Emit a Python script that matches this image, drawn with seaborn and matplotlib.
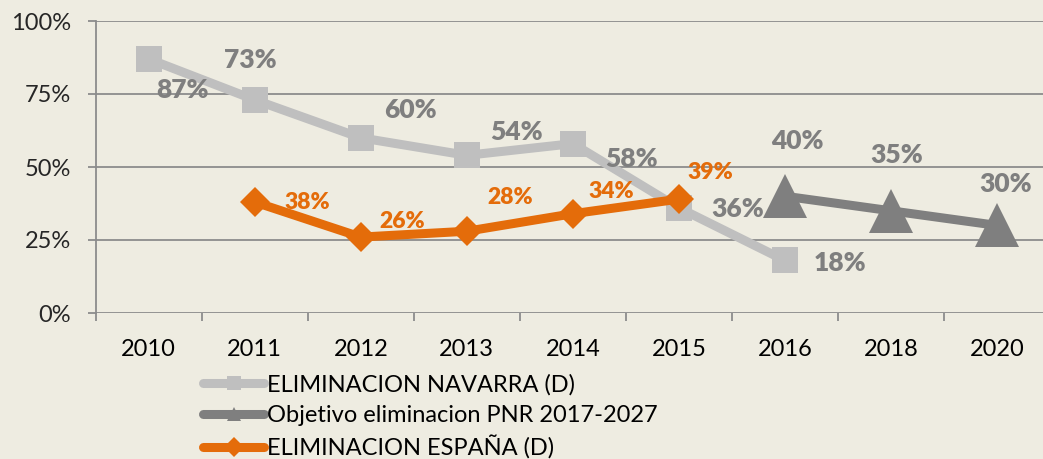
import matplotlib
matplotlib.use("Agg")
import matplotlib.pyplot as plt
import seaborn as sns
import pandas as pd

categories = ["2010", "2011", "2012", "2013", "2014", "2015", "2016", "2018", "2020"]

navarra_years = ["2010", "2011", "2012", "2013", "2014", "2015", "2016"]
navarra_vals = [87, 73, 60, 54, 58, 36, 18]

objetivo_years = ["2016", "2018", "2020"]
objetivo_vals = [40, 35, 30]

espana_years = ["2011", "2012", "2013", "2014", "2015"]
espana_vals = [38, 26, 28, 34, 39]

names = ["ELIMINACION NAVARRA (D)", "Objetivo eliminacion PNR 2017-2027", "ELIMINACION ESPAÑA (D)"]
y_ticks = [0, 25, 50, 75, 100]

BG = "#EEECE1"
C_NAV = "#BFBFBF"
C_OBJ = "#7F7F7F"
C_ESP = "#E46C0A"
GRID = "#8C8C8C"

sns.set_theme(style="white")
plt.rcParams["font.family"] = ["Lato", "DejaVu Sans"]

def frame(years, vals, name):
    return pd.DataFrame({"pos": [categories.index(y) for y in years], "val": vals, "serie": name})

df_nav = frame(navarra_years, navarra_vals, names[0])
df_obj = frame(objetivo_years, objetivo_vals, names[1])
df_esp = frame(espana_years, espana_vals, names[2])

fig = plt.figure(figsize=(10.43, 4.59), dpi=100, facecolor=BG)
W, H = 1043, 459
left, right, top, bottom = 95.7, 1050, 21, 313
ax = fig.add_axes([left / W, 1 - bottom / H, (right - left) / W, (bottom - top) / H])
ax.set_facecolor(BG)

sns.lineplot(data=df_nav, x="pos", y="val", ax=ax, color=C_NAV, linewidth=6.5,
             marker="s", markersize=19, markeredgewidth=0, label=names[0], zorder=3)
sns.lineplot(data=df_obj, x="pos", y="val", ax=ax, color=C_OBJ, linewidth=6.5,
             marker="^", markersize=32, markeredgewidth=0, label=names[1], zorder=3)
sns.lineplot(data=df_esp, x="pos", y="val", ax=ax, color=C_ESP, linewidth=6.5,
             marker="D", markersize=15, markeredgewidth=0, label=names[2], zorder=4)

ax.set_xlim(-0.5, len(categories) - 0.5)
ax.set_ylim(0, 100)
ax.set_xticks(range(len(categories)))
ax.set_xticklabels(categories)
ax.set_xticks([i - 0.5 for i in range(len(categories) + 1)], minor=True)
ax.set_yticks(y_ticks)
ax.set_yticklabels([f"{v}%" for v in y_ticks])
ax.tick_params(axis="x", which="major", length=0, pad=19, labelsize=17, colors="black")
ax.tick_params(axis="x", which="minor", length=6, width=1.3, color=GRID, direction="out", bottom=True)
ax.tick_params(axis="y", length=6, width=1.3, color=GRID, pad=12, labelsize=17, left=True)
ax.set_xlabel("")
ax.set_ylabel("")
ax.grid(axis="y", color=GRID, linewidth=1.3)
ax.grid(axis="x", visible=False)
ax.set_axisbelow(True)
for s in ["top", "right", "bottom"]:
    ax.spines[s].set_visible(False)
ax.spines["left"].set_color(GRID)
ax.spines["left"].set_linewidth(1.3)

# data labels (offsets in points)
nav_off = [(24, -22), (-3, 29), (36, 20), (36, 17), (42, -11), (42, -1), (40, -2)]
obj_off = [(9, 40), (4, 40), (6, 30)]
esp_off = [(38, 0), (30, 11), (31, 24), (28, 16), (23, 19)]

for (x, v), off in zip(zip(df_nav["pos"], df_nav["val"]), nav_off):
    ax.annotate(f"{v}%", (x, v), xytext=off, textcoords="offset points", ha="center", va="center",
                fontsize=19, fontweight="heavy", color=C_OBJ, zorder=6)
for (x, v), off in zip(zip(df_obj["pos"], df_obj["val"]), obj_off):
    ax.annotate(f"{v}%", (x, v), xytext=off, textcoords="offset points", ha="center", va="center",
                fontsize=19, fontweight="heavy", color=C_OBJ, zorder=6)
for (x, v), off in zip(zip(df_esp["pos"], df_esp["val"]), esp_off):
    ax.annotate(f"{v}%", (x, v), xytext=off, textcoords="offset points", ha="center", va="center",
                fontsize=16.5, fontweight="heavy", color=C_ESP, zorder=6)

leg = ax.legend(loc="upper left", bbox_to_anchor=(203 / W, 1 - 374 / H), bbox_transform=fig.transFigure,
                frameon=False, fontsize=17, handlelength=2.6, handletextpad=0.1,
                labelspacing=0.4, borderaxespad=0, borderpad=0)
for h in leg.legend_handles:
    h.set_markersize(10)
    h.set_linewidth(6.5)
for t in leg.get_texts():
    t.set_color("black")

fig.savefig("out.png", dpi=100, facecolor=BG)
